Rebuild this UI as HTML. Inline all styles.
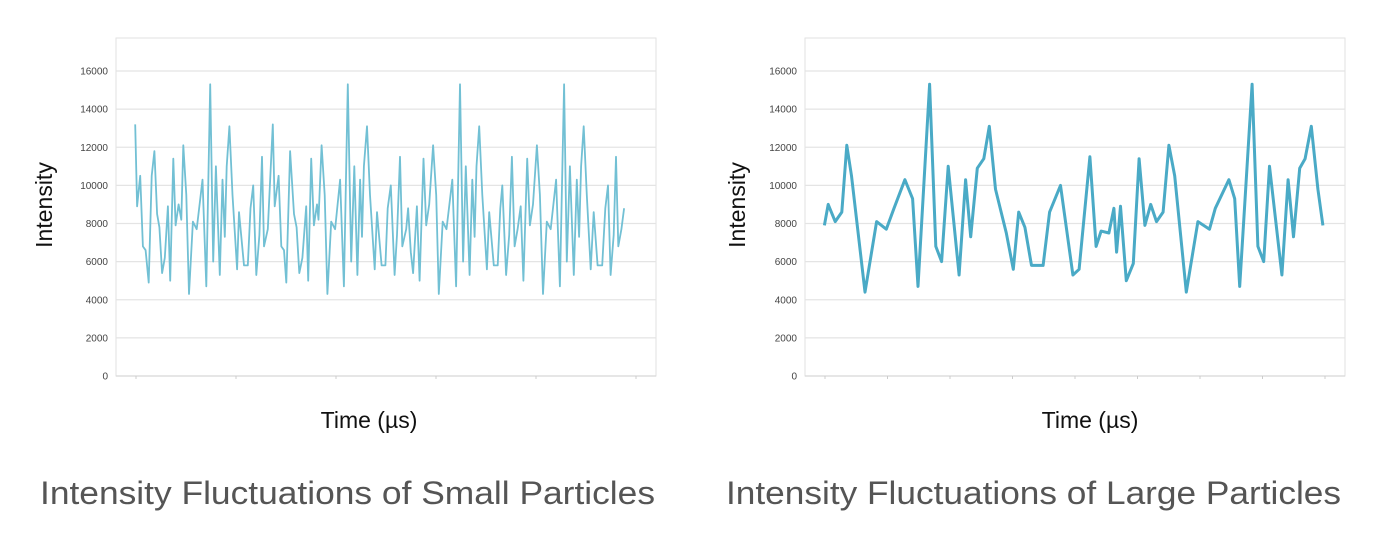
<!DOCTYPE html>
<html><head><meta charset="utf-8"><style>
html,body{margin:0;padding:0;background:#fff;}
svg{display:block;font-family:"Liberation Sans",sans-serif;}
</style></head><body>
<svg id="chart" width="1396" height="556" viewBox="0 0 1396 556" xmlns="http://www.w3.org/2000/svg"></svg>
<script>
// Data (time in arbitrary units, intensity values)
const yTicks = [0,2000,4000,6000,8000,10000,12000,14000,16000];
const smallTime = [195,200,208,215,222,230,238,245,252,258,265,272,280,286,294,300,308,315,320,328,335,345,355,370,380,390,398,405,415,422,428,433,440,448,460,465,478,488,495,502,510,518,525,530,540,553,558,568,575,582,588,598,608,615,622,630,640,645,653,660,668,672,680,688,695,705,715,728,738,748,757,765,773,780,785,790,798,806,818,824,836,846,852,860,870,876,884,890,900,905,912,918,928,935,945,952,960,970,978,985,995,1005,1020,1030,1040,1048,1055,1065,1072,1078,1083,1090,1098,1110,1116,1128,1138,1145,1150,1160,1168,1175,1182,1190,1198,1205,1215,1222,1230,1240,1248,1256,1266,1276,1290,1300,1311,1318,1326,1336,1344,1350,1355,1362,1370,1380,1388,1398,1410,1418,1425,1432,1440,1446,1452,1460,1467];
const smallIntensity = [13200,8900,10500,6800,6600,4900,10500,11800,8500,7800,5400,6200,8900,5000,11400,7900,9000,8200,12100,9500,4300,8100,7700,10300,4700,15300,6000,11000,5300,10300,7300,11000,13100,9500,5600,8600,5800,5800,8800,10000,5300,7400,11500,6800,7700,13200,8900,10500,6800,6600,4900,11800,8500,7800,5400,6200,8900,5000,11400,7900,9000,8200,12100,9500,4300,8100,7700,10300,4700,15300,6000,11000,5300,10300,7300,11000,13100,9500,5600,8600,5800,5800,8800,10000,5300,7400,11500,6800,7700,8800,6500,5400,8900,5000,11400,7900,9000,12100,9500,4300,8100,7700,10300,4700,15300,6000,11000,5300,10300,7300,11000,13100,9500,5600,8600,5800,5800,8800,10000,5300,7400,11500,6800,7700,8900,5000,11400,7900,9000,12100,9500,4300,8100,7700,10300,4700,15300,6000,11000,5300,10300,7300,11000,13100,9500,5600,8600,5800,5800,8800,10000,5300,7400,11500,6800,7700,8800];
const largeTime = [170,180,198,215,228,240,275,305,330,350,378,398,412,442,458,473,490,518,535,548,565,582,596,612,640,658,672,688,705,735,752,780,812,828,856,872,885,905,918,925,935,950,968,983,998,1013,1028,1045,1060,1075,1105,1135,1165,1180,1215,1230,1243,1275,1290,1305,1320,1352,1368,1382,1398,1412,1428,1445,1458];
const largeIntensity = [7900,9000,8100,8600,12100,10500,4400,8100,7700,8800,10300,9300,4700,15300,6800,6000,11000,5300,10300,7300,10900,11400,13100,9800,7500,5600,8600,7800,5800,5800,8600,10000,5300,5600,11500,6800,7600,7500,8800,6500,8900,5000,5900,11400,7900,9000,8100,8600,12100,10500,4400,8100,7700,8800,10300,9300,4700,15300,6800,6000,11000,5300,10300,7300,10900,11400,13100,9800,7900];

const NS='http://www.w3.org/2000/svg';
const svg=document.getElementById('chart');
function mk(tag,attrs,parent){const e=document.createElementNS(NS,tag);for(const k in attrs)e.setAttribute(k,attrs[k]);(parent||svg).appendChild(e);return e;}

function drawChart(cfg){
  const g=mk('g',{});
  
  
  const yTop=38,yBot=376;
  const yS=v=>376-v/16000*(376-71);
  const xS=t=>cfg.fx0+(t-cfg.dx0)/(cfg.dx1-cfg.dx0)*(cfg.fx1-cfg.fx0);
  const frame=mk('rect',{x:cfg.fx0,y:yTop,width:cfg.fx1-cfg.fx0,height:yBot-yTop,fill:'none',stroke:'#e2e2e2','stroke-width':1},g);
  
  
  yTicks.forEach(v=>{
    const y=yS(v);
    const gl=mk('line',{x1:cfg.fx0,x2:cfg.fx1,y1:y,y2:y,stroke:v===0?'#d8d8d8':'#e4e4e4','stroke-width':1.2},g);
    
    
    const t=mk('text',{x:cfg.fx0-8,y:y+3.5,'text-anchor':'end','font-size':10,fill:'#444'},g);
    
    
    t.textContent=v;
  });
  for(let i=0;i<cfg.nTicks;i++){
    const x=cfg.fx0+20+i*(cfg.fx1-cfg.fx0-40)/(cfg.nTicks-1);
    const tk=mk('line',{x1:x,x2:x,y1:yBot,y2:yBot+3,stroke:'#ccc','stroke-width':1},g);
    
    
  }
  const pts=cfg.t.map((t,i)=>xS(t).toFixed(1)+','+yS(cfg.v[i]).toFixed(1)).join(' ');
  const line=mk('polyline',{points:pts,fill:'none',stroke:cfg.color,'stroke-width':cfg.w,'stroke-linejoin':'round'},g);
  
  
  const yt=mk('text',{x:0,y:0,transform:`translate(${cfg.yTitleX},205) rotate(-90)`,'text-anchor':'middle','font-size':23,fill:'#111'},g);
  
  
  yt.textContent='Intensity';
  const xt=mk('text',{x:cfg.xTitleX,y:428,'text-anchor':'middle','font-size':23,fill:'#111'},g);
  
  
  xt.textContent='Time (µs)';
  const cap=mk('text',{x:cfg.capX,y:504,'font-size':32,fill:'#555',textLength:cfg.capW,lengthAdjust:'spacingAndGlyphs'},g);
  
  
  cap.textContent=cfg.caption;
}

drawChart({name:'small-particles-chart',fx0:116,fx1:656,dx0:145,dx1:1550,t:smallTime,v:smallIntensity,color:'#72c0d4',w:1.8,nTicks:6,yTitleX:52,xTitleX:369,capX:40,capW:615,caption:'Intensity Fluctuations of Small Particles'});
drawChart({name:'large-particles-chart',fx0:805,fx1:1345,dx0:120,dx1:1515,t:largeTime,v:largeIntensity,color:'#4aaac6',w:3,nTicks:9,yTitleX:745,xTitleX:1090,capX:726,capW:615,caption:'Intensity Fluctuations of Large Particles'});
</script>
</body></html>
